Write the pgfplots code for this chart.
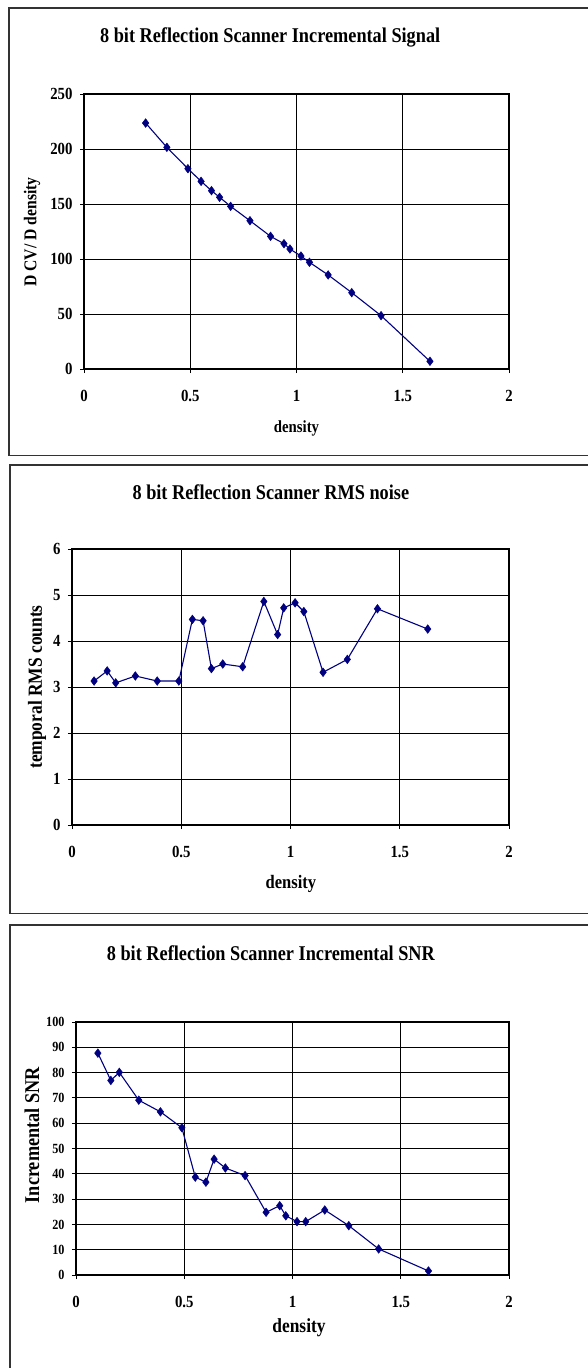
\documentclass[border=0pt]{standalone}
\usepackage{fontspec}
\setmainfont{Liberation Serif}[FakeStretch=0.87]
\usepackage{pgfplots}
\pgfplotsset{compat=1.18}
\definecolor{navy}{RGB}{0,0,128}
\definecolor{framegray}{RGB}{51,51,51}
\pgfplotsset{
  xlpanel/.style={
    scale only axis,
    xmin=0, xmax=2, xtick={0,0.5,1,1.5,2},
    grid=major,
    major grid style={black, line width=1pt},
    axis line style={black, line width=1.1pt},
    tick pos=left, tick align=outside,
    major tick length=4pt,
    tick style={black, line width=0.9pt},
    /pgf/number format/assume math mode=true,
    xticklabel style={font=\bfseries\fontsize{17}{17}\selectfont, yshift=-14pt},
    yticklabel style={font=\bfseries\fontsize{17}{17}\selectfont, xshift=-4pt},
    title style={font=\bfseries\fontsize{21}{21}\selectfont, anchor=center, yshift=-6pt},
    xlabel style={anchor=center, yshift=-3pt},
    ylabel style={anchor=center, rotate=0},
  },
  dataline/.style={color=navy, line width=1.1pt, mark=diamond*, mark size=4.3pt,
    mark options={fill=navy, draw=navy, line width=0.5pt}},
}
\begin{document}
\begin{tikzpicture}
\clip (0pt,0pt) rectangle (588pt,-1368pt);
\path[use as bounding box] (0pt,0pt) rectangle (588pt,-1368pt);
\draw[framegray, line width=1.4pt] (9pt,-8pt) rectangle (600pt,-455.5pt);
\draw[framegray, line width=1.4pt] (10pt,-465pt) rectangle (600pt,-913.5pt);
\draw[framegray, line width=1.4pt] (10pt,-925pt) rectangle (600pt,-1400pt);

% Panel 1
\begin{axis}[xlpanel, at={(84pt,-369pt)}, anchor=south west, width=425pt, height=275pt,
  ymin=0, ymax=250, ytick={0,50,100,150,200,250},
  title={8 bit Reflection Scanner Incremental Signal},
  title style={at={(axis description cs:0.438,1.207)}},
  xlabel={density},
  xlabel style={at={(axis description cs:0.5,-0.207)}, font=\bfseries\fontsize{17}{17}\selectfont},
  ylabel={D CV/ D density},
  ylabel style={at={(axis description cs:-0.122,0.498)}, font=\bfseries\fontsize{18}{18}\selectfont},
]
\addplot[dataline] coordinates {
(0.290,223.6) (0.390,201.5) (0.489,182.1) (0.551,170.6) (0.600,162.1)
(0.638,156.1) (0.690,147.9) (0.781,134.8) (0.878,120.6) (0.941,113.9)
(0.969,109.1) (1.021,102.7) (1.061,97.0) (1.149,85.5) (1.260,69.4)
(1.398,48.5) (1.628,7.0)
};
\end{axis}

% Panel 2
\begin{axis}[xlpanel, at={(72pt,-825pt)}, anchor=south west, width=437pt, height=276pt,
  ymin=0, ymax=6, ytick={0,1,2,3,4,5,6},
  title={8 bit Reflection Scanner RMS noise},
  title style={at={(axis description cs:0.455,1.207)}},
  xlabel={density},
  xlabel style={at={(axis description cs:0.501,-0.203)}, font=\bfseries\fontsize{19}{19}\selectfont},
  ylabel={temporal RMS counts},
  ylabel style={at={(axis description cs:-0.080,0.5)}, font=\bfseries\fontsize{20}{20}\selectfont},
]
\addplot[dataline] coordinates {
(0.101,3.13) (0.161,3.35) (0.200,3.09) (0.290,3.24) (0.390,3.13)
(0.489,3.13) (0.551,4.47) (0.600,4.44) (0.638,3.40) (0.690,3.50)
(0.781,3.44) (0.878,4.86) (0.941,4.14) (0.969,4.72) (1.021,4.83)
(1.061,4.64) (1.149,3.32) (1.260,3.60) (1.398,4.70) (1.628,4.26)
};
\end{axis}

% Panel 3
\begin{axis}[xlpanel, at={(76pt,-1275pt)}, anchor=south west, width=433pt, height=253pt,
  ymin=0, ymax=100, ytick={0,10,20,30,40,50,60,70,80,90,100},
  yticklabel style={font=\bfseries\fontsize{14}{14}\selectfont},
  title={8 bit Reflection Scanner Incremental SNR},
  title style={at={(axis description cs:0.450,1.273)}},
  xlabel={density},
  xlabel style={at={(axis description cs:0.515,-0.198)}, font=\bfseries\fontsize{20}{20}\selectfont},
  ylabel={Incremental SNR},
  ylabel style={at={(axis description cs:-0.102,0.553)}, font=\bfseries\fontsize{21}{21}\selectfont},
]
\addplot[dataline] coordinates {
(0.101,87.7) (0.161,76.9) (0.200,80.1) (0.290,69.1) (0.390,64.5)
(0.489,58.2) (0.551,38.7) (0.600,36.7) (0.638,45.8) (0.690,42.3)
(0.781,39.3) (0.878,24.8) (0.941,27.4) (0.969,23.4) (1.021,21.1)
(1.061,21.1) (1.149,25.7) (1.260,19.5) (1.398,10.3) (1.628,1.6)
};
\end{axis}
\end{tikzpicture}
\end{document}
